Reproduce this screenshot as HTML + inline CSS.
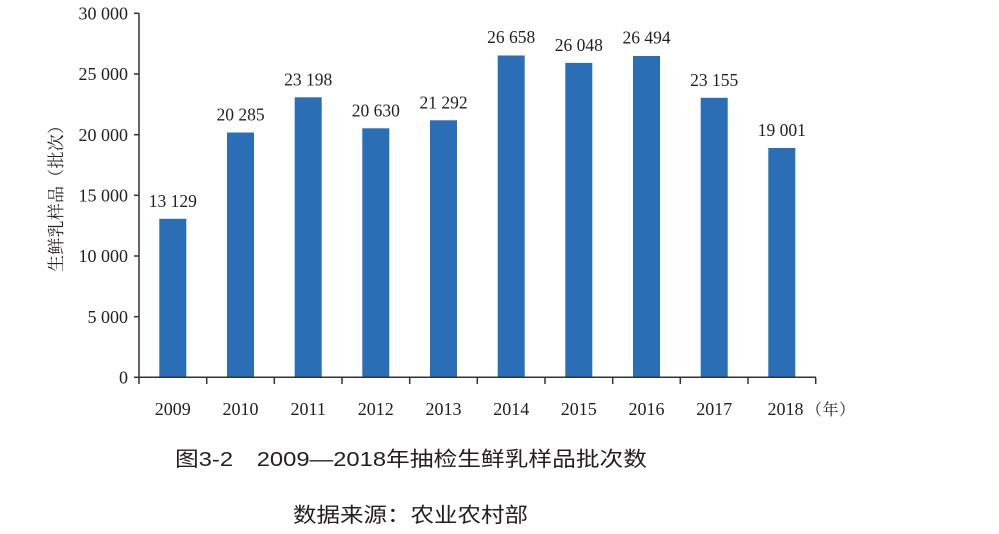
<!DOCTYPE html>
<html><head><meta charset="utf-8"><style>
html,body{margin:0;padding:0;background:#fff;}
svg{display:block;}
.n{font-family:"Liberation Serif",serif;fill:#231f20;}
</style></head><body>
<svg width="999" height="534" viewBox="0 0 999 534" xmlns="http://www.w3.org/2000/svg">
<rect width="999" height="534" fill="#fff"/>
<g fill="#2a6eb5">
<rect x="159.3" y="218.8" width="27" height="158.5"/>
<rect x="227" y="132.5" width="27" height="244.8"/>
<rect x="294.7" y="97.3" width="27" height="280"/>
<rect x="362.3" y="128.3" width="27" height="249"/>
<rect x="430" y="120.3" width="27" height="257"/>
<rect x="497.7" y="55.5" width="27" height="321.8"/>
<rect x="565.3" y="62.9" width="27" height="314.4"/>
<rect x="633" y="56" width="27" height="321.3"/>
<rect x="700.7" y="97.8" width="27" height="279.5"/>
<rect x="768.3" y="148" width="27" height="229.3"/>
</g>
<g stroke="#333" stroke-width="1.5" fill="none">
<line x1="139" y1="13.3" x2="139" y2="377.3"/>
<line x1="139" y1="377.3" x2="816" y2="377.3"/>
<line x1="134" y1="13.3" x2="139" y2="13.3"/>
<line x1="134" y1="74" x2="139" y2="74"/>
<line x1="134" y1="134.7" x2="139" y2="134.7"/>
<line x1="134" y1="195.3" x2="139" y2="195.3"/>
<line x1="134" y1="256" x2="139" y2="256"/>
<line x1="134" y1="316.7" x2="139" y2="316.7"/>
<line x1="134" y1="377.3" x2="139" y2="377.3"/>
<line x1="139" y1="377.3" x2="139" y2="384"/>
<line x1="206.7" y1="377.3" x2="206.7" y2="384"/>
<line x1="274.3" y1="377.3" x2="274.3" y2="384"/>
<line x1="342" y1="377.3" x2="342" y2="384"/>
<line x1="409.7" y1="377.3" x2="409.7" y2="384"/>
<line x1="477.3" y1="377.3" x2="477.3" y2="384"/>
<line x1="545" y1="377.3" x2="545" y2="384"/>
<line x1="612.7" y1="377.3" x2="612.7" y2="384"/>
<line x1="680.3" y1="377.3" x2="680.3" y2="384"/>
<line x1="748" y1="377.3" x2="748" y2="384"/>
<line x1="815.7" y1="377.3" x2="815.7" y2="384"/>
</g>
<g class="n" font-size="18" text-anchor="end">
<text x="128" y="19.5">30 000</text>
<text x="128" y="80.2">25 000</text>
<text x="128" y="140.9">20 000</text>
<text x="128" y="201.5">15 000</text>
<text x="128" y="262.2">10 000</text>
<text x="128" y="322.9">5 000</text>
<text x="128" y="383.5">0</text>
</g>
<g class="n" font-size="18" text-anchor="middle">
<text x="172.8" y="415">2009</text>
<text x="240.5" y="415">2010</text>
<text x="308.2" y="415">2011</text>
<text x="375.8" y="415">2012</text>
<text x="443.5" y="415">2013</text>
<text x="511.2" y="415">2014</text>
<text x="578.8" y="415">2015</text>
<text x="646.5" y="415">2016</text>
<text x="714.2" y="415">2017</text>
<text x="785.5" y="415">2018</text>
</g>
<text x="806" y="415" font-family="'Liberation Serif','Noto Serif CJK SC',serif" font-size="16" fill="#231f20" textLength="49">（年）</text>
<g class="n" font-size="17.5" text-anchor="middle">
<text x="172.8" y="206.8">13 129</text>
<text x="240.5" y="120.5">20 285</text>
<text x="308.2" y="85.3">23 198</text>
<text x="375.8" y="116.3">20 630</text>
<text x="443.5" y="108.3">21 292</text>
<text x="511.2" y="43">26 658</text>
<text x="578.8" y="50.9">26 048</text>
<text x="646.5" y="43.5">26 494</text>
<text x="714.2" y="85.8">23 155</text>
<text x="781.8" y="136">19 001</text>
</g>
<text transform="translate(62,194.5) rotate(-90)" text-anchor="middle" font-family="'Liberation Serif','Noto Serif CJK SC',serif" font-size="17" fill="#231f20" textLength="155">生鲜乳样品（批次）</text>
<text x="175" y="466" font-family="'Liberation Sans','Noto Sans CJK SC',sans-serif" font-size="20.5" font-weight="400" fill="#231f20" textLength="472" lengthAdjust="spacingAndGlyphs">图3-2　2009—2018年抽检生鲜乳样品批次数</text>
<text x="293" y="522" font-family="'Liberation Sans','Noto Sans CJK SC',sans-serif" font-size="20.5" font-weight="400" fill="#231f20" textLength="235" lengthAdjust="spacingAndGlyphs">数据来源：农业农村部</text>
</svg>
</body></html>
